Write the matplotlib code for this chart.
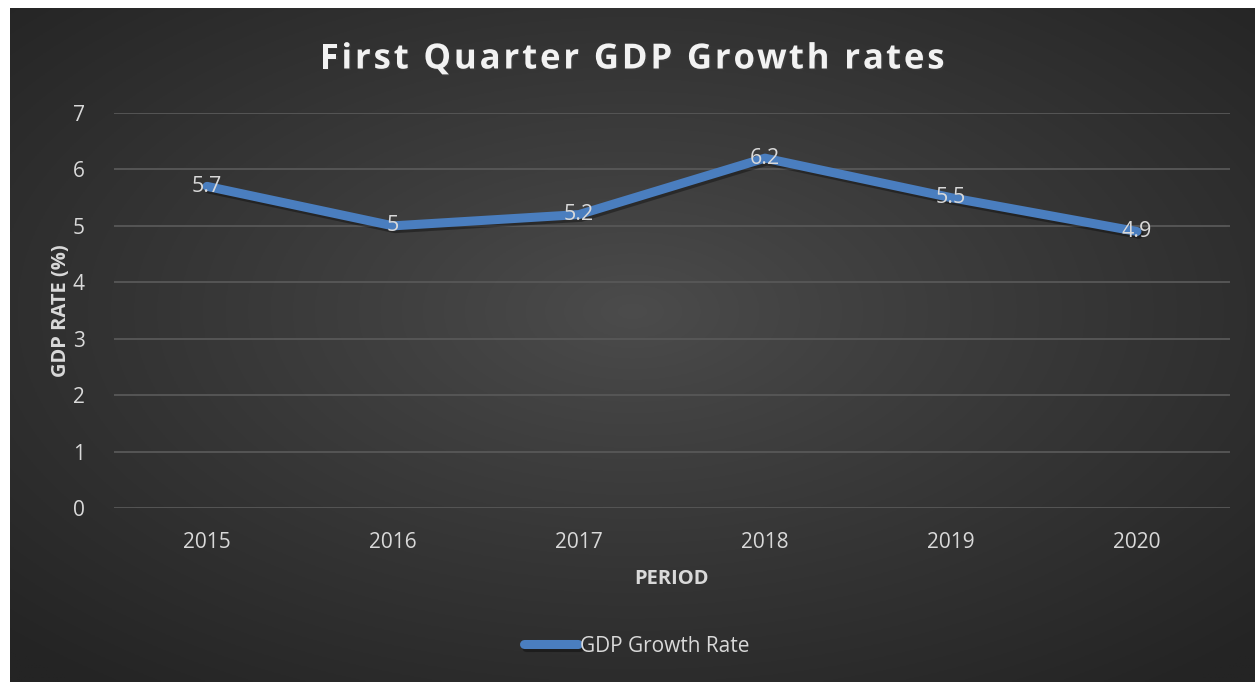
import numpy as np
import matplotlib
matplotlib.use('Agg')
import matplotlib.pyplot as plt
import matplotlib.patheffects as pe

plt.rcParams['font.family'] = ['Open Sans', 'DejaVu Sans']

years = ['2015', '2016', '2017', '2018', '2019', '2020']
gdp_rate = [5.7, 5.0, 5.2, 6.2, 5.5, 4.9]
data_labels = ['5.7', '5', '5.2', '6.2', '5.5', '4.9']
series_name = 'GDP Growth Rate'
title = 'First Quarter GDP Growth rates'

W, H = 1257, 682
fig = plt.figure(figsize=(W / 100, H / 100), dpi=100)
fig.patch.set_facecolor('white')

# dark radial gradient chart area
bg = fig.add_axes([10 / W, 0, (W - 12) / W, (H - 8) / H])
ny, nx = 300, 600
yy, xx = np.mgrid[-1:1:ny * 1j, -1:1:nx * 1j]
r = np.sqrt(xx ** 2 + (yy + 0.1) ** 2) / np.sqrt(2)
shade = (0x4c - (0x4c - 0x24) * np.clip(r, 0, 1) ** 0.9) / 255.0
bg.imshow(np.dstack([shade, shade, shade]), aspect='auto', extent=[0, 1, 0, 1])
bg.set_axis_off()

ax = fig.add_axes([114 / W, 1 - 508 / H, 1116 / W, 395 / H])
ax.set_facecolor('none')

x = np.arange(len(years))
ax.plot(x, gdp_rate, color='#4a7ebf', lw=6.5, solid_capstyle='round',
        solid_joinstyle='round', label=series_name, zorder=3,
        path_effects=[pe.SimpleLineShadow(offset=(1.5, -2), alpha=0.35), pe.Normal()])
for xi, v, lab in zip(x, gdp_rate, data_labels):
    ax.text(xi, v, lab, ha='center', va='center', color='#d9d9d9', fontsize=15.5, zorder=4)

ax.set_xlim(-0.5, len(years) - 0.5)
ax.set_ylim(0, 7)
ax.set_yticks(range(0, 8))
ax.set_xticks(x)
ax.set_xticklabels(years)
ax.grid(axis='y', color='#585858', lw=1.3)
ax.set_axisbelow(True)
for s in ax.spines.values():
    s.set_visible(False)
ax.tick_params(length=0, colors='#d9d9d9', labelsize=15)
ax.tick_params(axis='x', pad=17)
ax.tick_params(axis='y', pad=21)

ax.set_xlabel('PERIOD', color='#d9d9d9', fontsize=14.5, fontweight='bold', labelpad=12)
ax.set_ylabel('GDP RATE (%)', color='#d9d9d9', fontsize=14.5, fontweight='bold', labelpad=1)

# title with extra letter spacing, placed char by char
renderer = fig.canvas.get_renderer()
tkw = dict(fontsize=25, fontweight='bold', color='#f2f2f2')


def text_w(s):
    t = fig.text(0, 0, s + '|', **tkw)
    w = t.get_window_extent(renderer).width
    t.remove()
    t = fig.text(0, 0, '|', **tkw)
    w -= t.get_window_extent(renderer).width
    t.remove()
    return w


natural = text_w(title)
target = 625
gap = (target - natural) / (len(title) - 1)
left = 632 - target / 2
for i, ch in enumerate(title):
    if ch == ' ':
        continue
    px = left + text_w(title[:i]) + gap * i
    fig.text(px / W, 1 - 55 / H, ch, ha='left', va='center_baseline', **tkw,
             path_effects=[pe.withSimplePatchShadow(offset=(1, -1), alpha=0.4)])

leg = ax.legend(loc='center', bbox_to_anchor=(637 / W, 1 - 646 / H),
                bbox_transform=fig.transFigure, frameon=False, fontsize=15,
                handlelength=2.6, handletextpad=0.1, labelcolor='#d9d9d9')

fig.savefig('out.png', dpi=100)
